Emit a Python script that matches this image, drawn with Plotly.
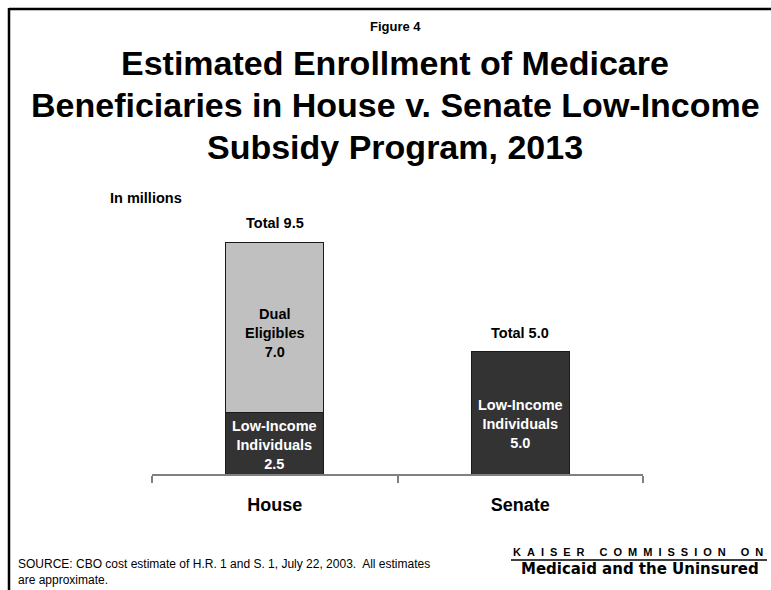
import plotly.graph_objects as go

# Enrollment estimates, in millions of beneficiaries
chambers = ["House", "Senate"]
low_income = [2.5, 5.0]
dual_eligibles = [7.0, None]
totals = [sum(v for v in pair if v is not None) for pair in zip(low_income, dual_eligibles)]

W, H = 771, 590
L, R, T, B = 152, 128, 200, 116
FONT = "Arial, Liberation Sans, sans-serif"


def px(xp):
    return (xp - L) / (W - L - R)


def py(yp):
    return (H - B - yp) / (H - T - B)


fig = go.Figure()
fig.add_bar(
    x=chambers, y=low_income, name="Low-Income Individuals",
    marker=dict(color="#333333", line=dict(color="#1a1a1a", width=1)),
    cliponaxis=False,
)
fig.add_bar(
    x=chambers, y=dual_eligibles, name="Dual Eligibles",
    marker=dict(color="#C0C0C0", line=dict(color="#1a1a1a", width=1)),
    cliponaxis=False,
)

annotations = []
# segment labels, centred on each segment
low_shift = [-2, -11]
for c, v, s in zip(chambers, low_income, low_shift):
    annotations.append(dict(
        x=c, y=v / 2, xref="x", yref="y",
        text=f"<b>Low-Income<br>Individuals<br>{v:.1f}</b>",
        showarrow=False, yanchor="middle", yshift=s,
        font=dict(family=FONT, size=14.5, color="white"),
    ))
for c, base, v in zip(chambers, low_income, dual_eligibles):
    if v is None:
        continue
    annotations.append(dict(
        x=c, y=base + v / 2, xref="x", yref="y",
        text=f"<b>Dual<br>Eligibles<br>{v:.1f}</b>",
        showarrow=False, yanchor="middle", yshift=-6,
        font=dict(family=FONT, size=14.5, color="black"),
    ))
for c, t in zip(chambers, totals):
    annotations.append(dict(
        x=c, y=t, xref="x", yref="y", text=f"<b>Total {t:.1f}</b>",
        showarrow=False, yanchor="middle", yshift=19,
        font=dict(family=FONT, size=14.5, color="black"),
    ))

title_lines = [
    "Estimated Enrollment of Medicare",
    "Beneficiaries in House v. Senate Low-Income",
    "Subsidy Program, 2013",
]
for line, yc in zip(title_lines, [63, 105, 147]):
    annotations.append(dict(
        x=px(395), y=py(yc), xref="paper", yref="paper", text=f"<b>{line}</b>",
        showarrow=False, xanchor="center", yanchor="middle",
        font=dict(family=FONT, size=34, color="black"),
    ))

annotations += [
    dict(x=px(395), y=py(27), xref="paper", yref="paper", text="<b>Figure 4</b>",
         showarrow=False, xanchor="center", yanchor="middle",
         font=dict(family=FONT, size=13, color="black")),
    dict(x=px(108), y=py(198), xref="paper", yref="paper", text="<b>In millions</b>",
         showarrow=False, xanchor="left", yanchor="middle",
         font=dict(family=FONT, size=14.5, color="black")),
    dict(x=px(16), y=py(572), xref="paper", yref="paper",
         text="SOURCE: CBO cost estimate of H.R. 1 and S. 1, July 22, 2003.  All estimates<br>are approximate.",
         showarrow=False, xanchor="left", yanchor="middle", align="left",
         font=dict(family=FONT, size=12, color="black")),
    dict(x=px(511), y=py(552), xref="paper", yref="paper",
         text="<b><span style='letter-spacing:6px'>KAISER COMMISSION O</span>N</b>",
         showarrow=False, xanchor="left", yanchor="middle",
         font=dict(family=FONT, size=11, color="black")),
    dict(x=px(640), y=py(569), xref="paper", yref="paper",
         text="<b>Medicaid and the Uninsured</b>",
         showarrow=False, xanchor="center", yanchor="middle",
         font=dict(family="DejaVu Sans, sans-serif", size=15, color="black")),
]

shapes = [
    # slide frame
    dict(type="line", xref="paper", yref="paper", x0=px(9), x1=px(W + 5), y0=py(9), y1=py(9),
         line=dict(color="black", width=2.5)),
    dict(type="line", xref="paper", yref="paper", x0=px(9), x1=px(9), y0=py(8), y1=py(H + 5),
         line=dict(color="black", width=2.5)),
    # logo rule
    dict(type="line", xref="paper", yref="paper", x0=px(511), x1=px(767), y0=py(560), y1=py(560),
         line=dict(color="black", width=1.5)),
]

fig.update_layout(
    width=W, height=H,
    margin=dict(l=L, r=R, t=T, b=B, pad=0),
    barmode="stack", bargap=0.6,
    showlegend=False,
    plot_bgcolor="white", paper_bgcolor="white",
    font=dict(family=FONT, color="black"),
    annotations=annotations, shapes=shapes,
    xaxis=dict(
        range=[-0.5, 1.5], showline=True, linecolor="#808080", linewidth=1.5,
        ticks="outside", tickson="boundaries", ticklen=7, tickcolor="#808080", tickwidth=1.5,
        tickfont=dict(family=FONT, size=18, color="black"),
        tickprefix="<b>", ticksuffix="</b>", ticklabelstandoff=14,
        showgrid=False, zeroline=False, fixedrange=True,
    ),
    yaxis=dict(range=[0, (H - T - B) / 24.42], visible=False, fixedrange=True),
)

fig.write_html("out.html", config={"displayModeBar": False})
